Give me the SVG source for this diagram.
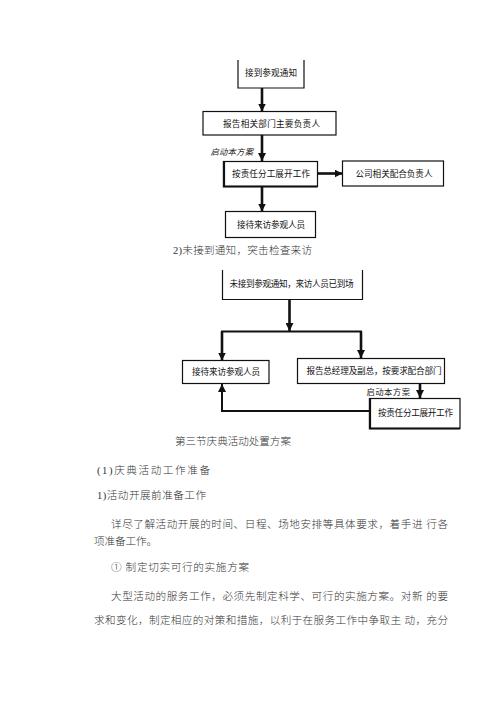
<svg xmlns="http://www.w3.org/2000/svg" width="500" height="707" viewBox="0 0 500 707">
<style>
.bg{fill:#fff}
.box{fill:#fff;stroke:#111;stroke-width:1.2}
.side{fill:none;stroke:#111;stroke-width:1.2}
.sh{fill:none;stroke:#111;stroke-width:2.2}
.bt{font-family:"Liberation Sans","Noto Sans CJK SC",sans-serif;font-size:8.6px;fill:#111;text-anchor:middle;dominant-baseline:central}
.lbl{font-family:"Liberation Sans","Noto Sans CJK SC",sans-serif;font-size:8.4px;fill:#222;dominant-baseline:central}
.body{font-family:"Liberation Serif","Noto Sans CJK SC",serif;font-size:10.6px;font-weight:300;fill:#333;dominant-baseline:central}
.c{fill:none;stroke:#111;stroke-width:2.6}
.t{fill:none;stroke:#111;stroke-width:2}
</style>
<defs>
<marker id="ah" viewBox="0 0 8 8" refX="8" refY="4" markerWidth="8" markerHeight="8" markerUnits="userSpaceOnUse" orient="auto">
<path d="M0,0 L8,4 L0,8 z" fill="#111"/>
</marker>
</defs>
<rect class="bg" x="0" y="0" width="500" height="707"/>

<g id="connectors">
<line class="c" x1="262" y1="88" x2="262" y2="111.5" marker-end="url(#ah)"/>
<line class="c" x1="262" y1="135" x2="262" y2="161" marker-end="url(#ah)"/>
<line class="c" x1="318" y1="173.5" x2="342.5" y2="173.5" marker-end="url(#ah)"/>
<line class="c" x1="262" y1="187" x2="262" y2="211.5" marker-end="url(#ah)"/>
<line class="c" x1="289.5" y1="299.5" x2="289.5" y2="331" marker-end="url(#ah)"/>
<polyline class="t" points="222,356 222,331.5 361,331.5 361,356"/>
<line class="c" x1="222" y1="331.5" x2="222" y2="360.5" marker-end="url(#ah)"/>
<line class="c" x1="361" y1="331.5" x2="361" y2="358" marker-end="url(#ah)"/>
<line class="c" x1="420" y1="383.5" x2="420" y2="398" marker-end="url(#ah)"/>
<polyline class="t" points="369,411 222,411 222,384" marker-end="url(#ah)"/>
</g>

<g id="n1">
<polyline class="side" points="238,60 238,88 304,88 304,60"/>
<text class="bt" x="271" y="73" textLength="52" lengthAdjust="spacing">接到参观通知</text>
</g>
<g id="n2">
<rect class="box" x="203" y="111.5" width="133" height="23.5"/>
<text class="bt" x="271.5" y="123.5" textLength="97" lengthAdjust="spacing">报告相关部门主要负责人</text>
</g>
<text class="lbl" x="210.5" y="152" textLength="42.5" lengthAdjust="spacing" font-style="italic" fill="#555">启动本方案</text>
<g id="n3">
<rect class="box" x="223.5" y="161.5" width="94" height="25"/>
<polyline class="sh" points="224,161.5 224,186.5 317.5,186.5"/>
<text class="bt" x="271" y="174" textLength="78" lengthAdjust="spacing">按责任分工展开工作</text>
</g>
<g id="n4">
<rect class="box" x="342.5" y="161" width="101" height="25"/>
<text class="bt" x="394" y="173.5" textLength="77" lengthAdjust="spacing">公司相关配合负责人</text>
</g>
<g id="n5">
<rect class="box" x="225.5" y="211.5" width="90" height="26"/>
<text class="bt" x="271" y="224.5" textLength="68" lengthAdjust="spacing">接待来访参观人员</text>
</g>

<text class="body" x="173" y="250" textLength="139" lengthAdjust="spacing">2)未接到通知，突击检查来访</text>

<g id="n6">
<polyline class="side" points="222.5,270 222.5,299.5 362.5,299.5 362.5,270"/>
<text class="bt" x="291.5" y="284" textLength="124" lengthAdjust="spacing">未接到参观通知，来访人员已到场</text>
</g>
<g id="n7">
<rect class="box" x="182.5" y="360.5" width="86.5" height="23"/>
<text class="bt" x="226" y="372" textLength="68" lengthAdjust="spacing">接待来访参观人员</text>
</g>
<g id="n8">
<rect class="box" x="297.5" y="358.5" width="147" height="25"/>
<text class="bt" x="374" y="371" textLength="135" lengthAdjust="spacing">报告总经理及副总，按要求配合部门</text>
</g>
<text class="lbl" x="366.5" y="391.5" textLength="43.5" lengthAdjust="spacing" fill="#111">启动本方案</text>
<g id="n9">
<rect class="box" x="369.5" y="398.5" width="90.5" height="30"/>
<polyline class="sh" points="370,398.5 370,428.5 460,428.5"/>
<text class="bt" x="415.5" y="413" textLength="75" lengthAdjust="spacing">按责任分工展开工作</text>
</g>

<text class="body" x="175" y="441" textLength="116" lengthAdjust="spacing">第三节庆典活动处置方案</text>
<text class="body" x="97" y="470" textLength="113" lengthAdjust="spacing">(1)庆典活动工作准备</text>
<text class="body" x="97" y="495.5" textLength="109" lengthAdjust="spacing">1)活动开展前准备工作</text>
<text class="body" x="111" y="524" textLength="337" lengthAdjust="spacing">详尽了解活动开展的时间、日程、场地安排等具体要求，着手进 行各</text>
<text class="body" x="94" y="541" textLength="63" lengthAdjust="spacing">项准备工作。</text>
<text class="body" x="111" y="567.5" textLength="138" lengthAdjust="spacing">① 制定切实可行的实施方案</text>
<text class="body" x="111" y="596" textLength="337" lengthAdjust="spacing">大型活动的服务工作，必须先制定科学、可行的实施方案。对新 的要</text>
<text class="body" x="94" y="620" textLength="354" lengthAdjust="spacing">求和变化，制定相应的对策和措施，以利于在服务工作中争取主 动，充分</text>
</svg>
